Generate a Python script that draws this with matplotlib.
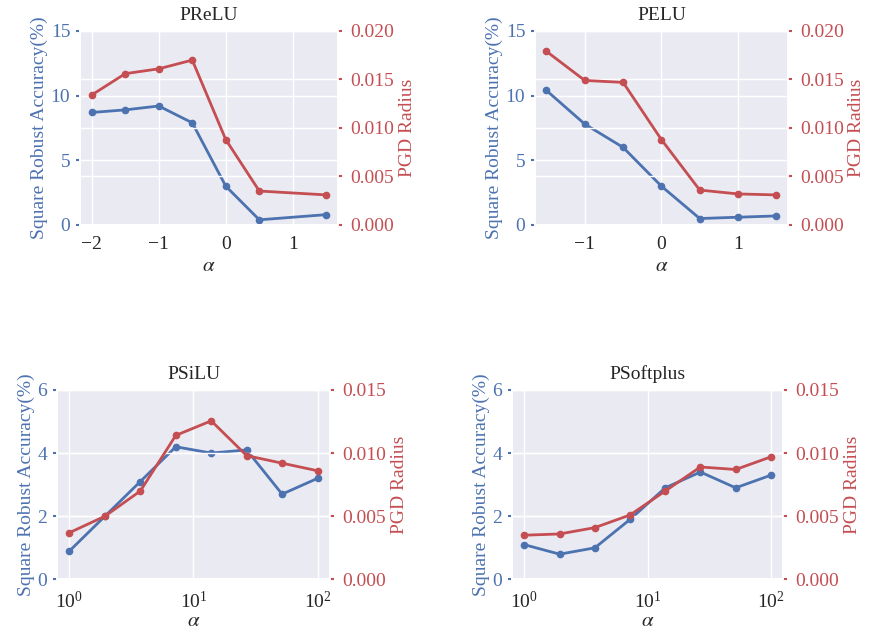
"""
Square robust accuracy vs PGD radius for parametric activations
"""
import numpy as np
import matplotlib
matplotlib.use('Agg')
import matplotlib.pyplot as plt
import seaborn as sns

sns.set_theme(style='darkgrid')
plt.rcParams['font.family'] = ['Liberation Serif', 'DejaVu Serif']
plt.rcParams['mathtext.fontset'] = 'stix'

BLUE = '#4C72B0'
RED = '#C44E52'

# ---- data ----
prelu_alpha = [-2, -1.5, -1, -0.5, 0, 0.5, 1.5]
prelu_acc = [8.7, 8.9, 9.2, 7.9, 3.0, 0.4, 0.8]
prelu_pgd = [0.0134, 0.0156, 0.0161, 0.0170, 0.0088, 0.0035, 0.0031]

pelu_alpha = [-1.5, -1, -0.5, 0, 0.5, 1, 1.5]
pelu_acc = [10.4, 7.8, 6.0, 3.0, 0.5, 0.6, 0.7]
pelu_pgd = [0.0179, 0.0149, 0.0147, 0.0088, 0.0036, 0.0032, 0.0031]

log_alpha = [1, 1.93, 3.73, 7.2, 13.9, 26.8, 51.8, 100]

psilu_acc = [0.9, 2.0, 3.1, 4.2, 4.0, 4.1, 2.7, 3.2]
psilu_pgd = [0.0037, 0.0050, 0.0070, 0.0114, 0.01255, 0.0098, 0.0092, 0.0086]

psoft_acc = [1.1, 0.8, 1.0, 1.9, 2.9, 3.4, 2.9, 3.3]
psoft_pgd = [0.0035, 0.0036, 0.0041, 0.0051, 0.0070, 0.0089, 0.0087, 0.0097]

left_ticks_top = [0, 5, 10, 15]
right_ticks_top = [0.0, 0.005, 0.010, 0.015, 0.020]
left_ticks_bot = [0, 2, 4, 6]
right_ticks_bot = [0.0, 0.005, 0.010, 0.015]

panels = [
    ('PReLU', prelu_alpha, prelu_acc, prelu_pgd, False, [0.0917, 0.6457, 0.296, 0.3055], left_ticks_top, right_ticks_top, 3),
    ('PELU', pelu_alpha, pelu_acc, pelu_pgd, False, [0.6135, 0.6457, 0.290, 0.3055], left_ticks_top, right_ticks_top, 3),
    ('PSiLU', log_alpha, psilu_acc, psilu_pgd, True, [0.0654, 0.0875, 0.313, 0.2985], left_ticks_bot, right_ticks_bot, 0),
    ('PSoftplus', log_alpha, psoft_acc, psoft_pgd, True, [0.5872, 0.0875, 0.311, 0.2985], left_ticks_bot, right_ticks_bot, 0),
]

fig = plt.figure(figsize=(8.72, 6.35), dpi=100)

for title, x, acc, pgd, logx, rect, lt, rt, xpad in panels:
    ax = fig.add_axes(rect)
    ax.plot(x, acc, color=BLUE, marker='o', markersize=4.5, lw=2)
    if logx:
        ax.set_xscale('log')
    ax.set_ylim(lt[0], lt[-1])
    ax.set_yticks(lt)
    ax.set_xlabel(r'$\alpha$', fontsize=15, labelpad=xpad)
    ax.set_ylabel('Square Robust Accuracy(%)', color=BLUE, fontsize=14, labelpad=2)
    ax.tick_params(axis='y', colors=BLUE, labelsize=14, left=True, length=3, width=1.5, pad=4)
    ax.tick_params(axis='x', labelsize=14, colors='#262626', bottom=False, pad=2)
    ax.set_title(title, fontsize=14, pad=8)

    ax2 = ax.twinx()
    ax2.plot(x, pgd, color=RED, marker='o', markersize=4.5, lw=2)
    ax2.set_ylim(rt[0], rt[-1])
    ax2.set_yticks(rt)
    ax2.yaxis.set_major_formatter(matplotlib.ticker.FormatStrFormatter('%.3f'))
    ax2.set_ylabel('PGD Radius', color=RED, fontsize=14, labelpad=3)
    ax2.tick_params(axis='y', colors=RED, labelsize=14, right=True, length=3, width=1.5, pad=6)

fig.savefig('out.png', dpi=100, facecolor='white')
